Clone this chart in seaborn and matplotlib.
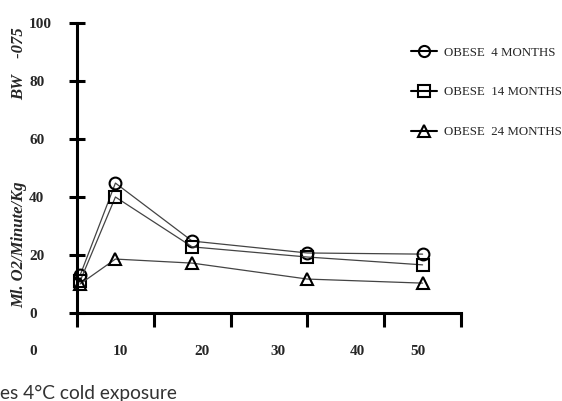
import numpy as np
import pandas as pd
import matplotlib
matplotlib.use("Agg")
import matplotlib.pyplot as plt
from matplotlib.lines import Line2D
import seaborn as sns

# ---- data ----
days = [0.4, 5, 15, 30, 45]
obese_4 = [13, 44.8, 24.8, 20.7, 20.3]
obese_14 = [11, 40, 22.8, 19.3, 16.6]
obese_24 = [10, 18.6, 17.2, 11.7, 10.3]
series_names = ["OBESE  4 MONTHS", "OBESE  14 MONTHS", "OBESE  24 MONTHS"]
x_ticks = [0, 10, 20, 30, 40, 50]
x_label_pos = [-5.7, 5.7, 16.3, 26.2, 36.5, 44.4]
x_label_text = ["0", "10", "20", "30", "40", "50"]
y_ticks = [0, 20, 40, 60, 80, 100]

df = pd.DataFrame({
    "day": days * 3,
    "vo2": obese_4 + obese_14 + obese_24,
    "group": [series_names[0]] * 5 + [series_names[1]] * 5 + [series_names[2]] * 5,
})

sns.set_style("white")
plt.rcParams["font.family"] = ["Liberation Serif", "DejaVu Serif"]

W, H = 562, 401
fig = plt.figure(figsize=(W / 100, H / 100), dpi=100)
ax = fig.add_axes([0.0, 1 - 313 / H, 461 / W, (313 - 23) / H])

markers = {series_names[0]: "o", series_names[1]: "s", series_names[2]: "^"}
sns.lineplot(data=df, x="day", y="vo2", style="group", markers=markers,
             dashes=False, color="#444444", linewidth=0.9, markersize=8.5,
             markerfacecolor="none", markeredgecolor="black",
             markeredgewidth=1.5, legend=False, ax=ax, clip_on=False)

ax.set_xlim(-10.03, 50)
ax.set_ylim(0, 100)

for s in ["top", "right"]:
    ax.spines[s].set_visible(False)
ax.spines["left"].set_position(("data", 0))
ax.spines["bottom"].set_bounds(0, 50)
for s in ["left", "bottom"]:
    ax.spines[s].set_linewidth(2.2)
    ax.spines[s].set_color("black")

ax.set_xticks(x_ticks)
ax.set_xticklabels([])
ax.set_xticks(x_label_pos, minor=True)
ax.set_xticklabels(x_label_text, minor=True, fontsize=11, fontweight="bold")
ax.tick_params(axis="x", which="major", bottom=True, direction="out",
               length=10, width=2.2, color="black")
ax.tick_params(axis="x", which="minor", bottom=True, length=0, pad=23)

ax.set_yticks(y_ticks)
ax.set_yticklabels([str(v) for v in y_ticks], fontsize=11, fontweight="bold")
ax.tick_params(axis="y", left=True, direction="inout", length=11, width=2.2,
               color="black", pad=29)
for lbl in ax.get_yticklabels():
    lbl.set_horizontalalignment("left")

ax.set_xlabel("")
ax.set_ylabel("")

# y-axis label parts
fig.text(19 / W, 1 - 245 / H, "Ml. O2/Minute/Kg", rotation=90, ha="center",
         va="center", fontsize=12, fontweight="bold", style="italic")
fig.text(19 / W, 1 - 64 / H, "BW    -075", rotation=90, ha="center",
         va="center", fontsize=12, fontweight="bold", style="italic")

# legend
handles = [Line2D([], [], color="black", lw=1.5, marker=markers[n],
                  markersize=8, markerfacecolor="none",
                  markeredgecolor="black", markeredgewidth=1.5)
           for n in series_names]
leg = fig.legend(handles, series_names, loc="upper left",
                 bbox_to_anchor=(405 / W, 1 - 40 / H), frameon=False,
                 fontsize=9.3, labelspacing=2.15, handlelength=2.0,
                 handletextpad=0.5, borderpad=0)

# caption (cut off at the figure edge)
fig.text(0.0, 2 / H, "es 4°C cold exposure", ha="left", va="baseline",
         fontsize=13.8, color="#333333", family=["Lato", "DejaVu Sans"])

fig.savefig("out.png", dpi=100)
